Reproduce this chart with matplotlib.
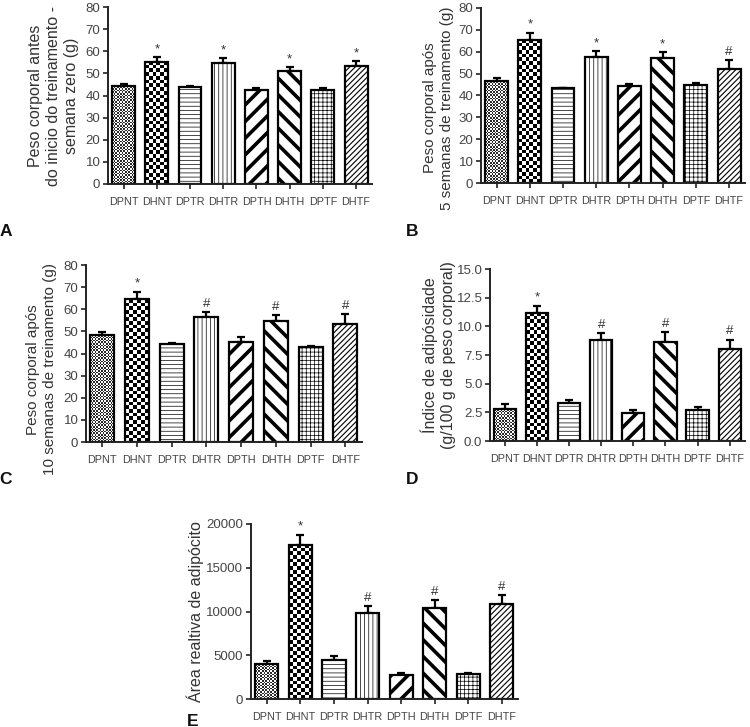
import matplotlib
matplotlib.use("Agg")
import matplotlib.pyplot as plt
import numpy as np

plt.rcParams["font.family"] = ["Liberation Sans", "DejaVu Sans"]

groups = ["DPNT", "DHNT", "DPTR", "DHTR", "DPTH", "DHTH", "DPTF", "DHTF"]

# panel A - body weight at week zero
peso_s0 = [44.5, 55.3, 43.8, 54.7, 42.7, 51.2, 42.4, 53.5]
peso_s0_err = [0.5, 2.0, 0.4, 2.2, 0.8, 1.5, 0.8, 2.0]
peso_s0_sig = ["", "*", "", "*", "", "*", "", "*"]

# panel B - after 5 weeks
peso_s5 = [46.8, 65.5, 43.2, 57.8, 44.5, 57.0, 44.8, 52.3]
peso_s5_err = [1.0, 3.2, 0.3, 2.4, 0.8, 2.7, 0.9, 4.0]
peso_s5_sig = ["", "*", "", "*", "", "*", "", "#"]

# panel C - after 10 weeks
peso_s10 = [48.3, 64.6, 44.3, 56.3, 45.2, 54.8, 43.0, 53.5]
peso_s10_err = [1.2, 3.4, 0.5, 2.5, 2.2, 2.6, 0.4, 4.5]
peso_s10_sig = ["", "*", "", "#", "", "#", "", "#"]

# panel D - adiposity index
adiposidade = [2.75, 11.2, 3.3, 8.8, 2.4, 8.6, 2.7, 8.0]
adiposidade_err = [0.5, 0.6, 0.3, 0.65, 0.3, 0.9, 0.3, 0.85]
adiposidade_sig = ["", "*", "", "#", "", "#", "", "#"]

# panel E - relative adipocyte area
area_adipocito = [3950, 17650, 4500, 9850, 2750, 10400, 2850, 10850]
area_adipocito_err = [400, 1100, 400, 750, 200, 900, 150, 1050]
area_adipocito_sig = ["", "*", "", "#", "", "#", "", "#"]

# fill style per group: ("checker", cell_px, dark colour) or ("hatch", pattern, lw)
FILLS = [
    ("checker", 1.6, "#2a2a2a"),
    ("checker", 3.7, "#000000"),
    ("hatch", "----", 0.5),
    ("hatch", "||||", 0.5),
    ("hatch", "//", 2.6),
    ("hatch", "\\\\", 2.6),
    ("hatch", "++++", 0.5),
    ("hatch", "//////", 0.8),
]

FIG_W, FIG_H = 750, 727


def checker_fill(ax, bar, cell_px, dark):
    bb = bar.get_window_extent()
    nx = max(1, int(round(bb.width / cell_px)))
    ny = max(1, int(round(bb.height / cell_px)))
    img = (np.indices((ny, nx)).sum(axis=0) % 2).astype(float)
    cmap = matplotlib.colors.ListedColormap(["white", dark])
    x0, y0 = bar.get_x(), bar.get_y()
    x1, y1 = x0 + bar.get_width(), y0 + bar.get_height()
    im = ax.imshow(img, cmap=cmap, extent=(x0, x1, y0, y1), aspect="auto",
                   interpolation="nearest", origin="lower", zorder=1.5)
    im.set_clip_path(bar)
    bar.set_facecolor("none")


def panel(fig, rect_px, values, errs, sig, yticks, ylabel, fmt, label_xy,
          label_size=11.5):
    left, right, top, bottom = rect_px
    ax = fig.add_axes([left / FIG_W, 1 - bottom / FIG_H,
                       (right - left) / FIG_W, (bottom - top) / FIG_H])
    x = np.arange(len(groups))
    ax.set_xlim(-0.47, 7.48)
    ax.set_ylim(yticks[0], yticks[-1])
    bars = ax.bar(x, values, width=0.69, color="white", edgecolor="black",
                  linewidth=1.6, zorder=2)
    ax.errorbar(x, values, yerr=[np.zeros(len(values)), errs], fmt="none",
                ecolor="black", elinewidth=1.6, capsize=3.2, capthick=1.6,
                zorder=1)
    for b, fill in zip(bars, FILLS):
        if fill[0] == "checker":
            checker_fill(ax, b, fill[1], fill[2])
        else:
            b.set_hatch(fill[1])
            if hasattr(b, "set_hatch_linewidth"):
                b.set_hatch_linewidth(fill[2])
    ax.set_xlim(-0.47, 7.48)
    ax.set_ylim(yticks[0], yticks[-1])
    for xi, v, e, s in zip(x, values, errs, sig):
        if s:
            ax.annotate(s, (xi, v + e), xytext=(0, 1.5), textcoords="offset points",
                        ha="center", va="bottom", fontsize=9.5, color="#333333")
    ax.set_yticks(yticks)
    ax.set_yticklabels([fmt.format(t) for t in yticks])
    ax.set_xticks(x)
    ax.set_xticklabels(groups)
    for sp in ["top", "right"]:
        ax.spines[sp].set_visible(False)
    for sp in ["left", "bottom"]:
        ax.spines[sp].set_linewidth(1.4)
        ax.spines[sp].set_color("#222222")
    ax.tick_params(axis="both", direction="out", length=3.5, width=1.2,
                   colors="#222222", labelcolor="#444444")
    ax.tick_params(axis="y", labelsize=9.5, pad=2)
    ax.tick_params(axis="x", labelsize=7.8, pad=6)
    ax.set_ylabel(ylabel, fontsize=label_size, color="#333333", linespacing=1.25)
    ax.yaxis.set_label_coords(*label_xy)
    return ax


fig = plt.figure(figsize=(7.5, 7.27), dpi=100)

panel(fig, (108, 372, 7, 184), peso_s0, peso_s0_err, peso_s0_sig,
      list(range(0, 81, 10)),
      "Peso corporal antes\ndo inicio do treinamento -\nsemana zero (g)", "{:.0f}",
      (-0.11, 0.5))
panel(fig, (481, 745, 8, 183), peso_s5, peso_s5_err, peso_s5_sig,
      list(range(0, 81, 10)),
      "Peso corporal após\n5 semanas de treinamento (g)", "{:.0f}",
      (-0.102, 0.43), label_size=11)
panel(fig, (86, 362, 265, 442), peso_s10, peso_s10_err, peso_s10_sig,
      list(range(0, 81, 10)),
      "Peso corporal após\n10 semanas de treinamento (g)", "{:.0f}",
      (-0.105, 0.41), label_size=11)
panel(fig, (490, 745, 269, 441), adiposidade, adiposidade_err, adiposidade_sig,
      [0, 2.5, 5.0, 7.5, 10.0, 12.5, 15.0],
      "Índice de adipósidade\n(g/100 g de peso corporal)", "{:.1f}",
      (-0.135, 0.5))
panel(fig, (251, 518, 524, 699), area_adipocito, area_adipocito_err,
      area_adipocito_sig, [0, 5000, 10000, 15000, 20000],
      "Área realtiva de adipócito", "{:.0f}", (-0.175, 0.5))

for letter, px, py in [("A", 6, 232), ("B", 412, 232), ("C", 6, 480),
                       ("D", 412, 480), ("E", 193, 721)]:
    fig.text(px / FIG_W, 1 - py / FIG_H, letter, fontsize=12.5, fontweight="bold",
             ha="center", va="center", color="#111111")

fig.savefig("out.png", dpi=100)
